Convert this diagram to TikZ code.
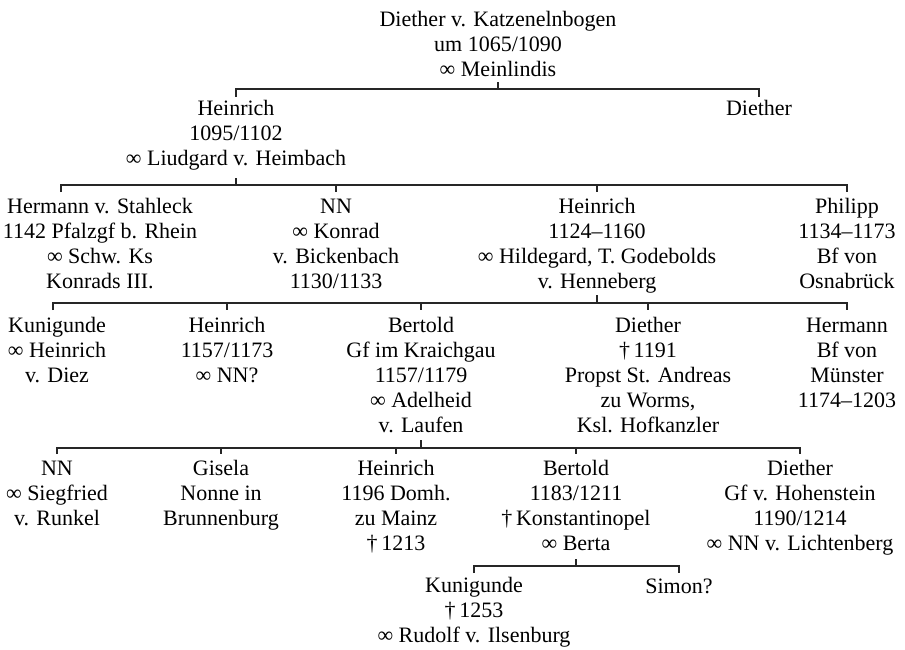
\documentclass[tikz,border=0pt]{standalone}
\usepackage{fontspec}
\setmainfont{Liberation Serif}
\usetikzlibrary{calc}
\newcommand{\persfont}{\fontsize{16.5}{18.75}\selectfont}
\tikzset{
  person/.style={align=center, inner sep=0pt, anchor=base, font=\persfont, text=black},
  bus/.style={line width=1.2pt, draw=black!85, line join=miter}
}
\begin{document}
\begin{tikzpicture}[x=0.75pt,y=-0.75pt]
\useasboundingbox (0,0) rectangle (905,649);
% node positions give the baseline of the LAST line of each node
% generation 0
\node[person] (D0) at (498,77) {Diether v. Katzenelnbogen\\um 1065/1090\\∞ Meinlindis};
% generation 1
\node[person] (H1) at (236,166) {Heinrich\\1095/1102\\∞ Liudgard v. Heimbach};
\node[person] (D1) at (759,116) {Diether};
% generation 2
\node[person] (H2a) at (100,288) {Hermann v. Stahleck\\1142 Pfalzgf b. Rhein\\∞ Schw. Ks\\Konrads III.};
\node[person] (N2) at (336,288) {NN\\∞ Konrad\\v. Bickenbach\\1130/1133};
\node[person] (H2b) at (597,288) {Heinrich\\1124–1160\\∞ Hildegard, T. Godebolds\\v. Henneberg};
\node[person] (P2) at (847,288) {Philipp\\1134–1173\\Bf von\\Osnabrück};
% generation 3
\node[person] (K3) at (57,382) {Kunigunde\\∞ Heinrich\\v. Diez};
\node[person] (H3) at (227,382) {Heinrich\\1157/1173\\∞ NN?};
\node[person] (B3) at (421,432) {Bertold\\Gf im Kraichgau\\1157/1179\\∞ Adelheid\\v. Laufen};
\node[person] (D3) at (648,432) {Diether\\†\,1191\\Propst St. Andreas\\zu Worms,\\Ksl. Hofkanzler};
\node[person] (He3) at (847,407) {Hermann\\Bf von\\Münster\\1174–1203};
% generation 4
\node[person] (N4) at (57,525) {NN\\∞ Siegfried\\v. Runkel};
\node[person] (G4) at (221,525) {Gisela\\Nonne in\\Brunnenburg};
\node[person] (H4) at (396,550) {Heinrich\\1196 Domh.\\zu Mainz\\†\,1213};
\node[person] (B4) at (576,550) {Bertold\\1183/1211\\†\,Konstantinopel\\∞ Berta};
\node[person] (D4) at (800,550) {Diether\\Gf v. Hohenstein\\1190/1214\\∞ NN v. Lichtenberg};
% generation 5
\node[person] (K5) at (474,642) {Kunigunde\\†\,1253\\∞ Rudolf v. Ilsenburg};
\node[person] (S5) at (679,593) {Simon?};
% bus levels
\coordinate (ya) at (0,89);
\coordinate (yb) at (0,185);
\coordinate (yc) at (0,303);
\coordinate (yd) at (0,448);
\coordinate (ye) at (0,566);
\coordinate (tH2a) at ($(H2a.north |- yb)+(-39,0)$);
\coordinate (tK3) at ($(K3.north |- yc)+(-4,0)$);
% family of D0
\draw[bus] (D0.south |- ya) -- ++(0,-7);
\draw[bus] ($(H1.north |- ya)+(0,8)$) -- (H1.north |- ya) -- (D1.north |- ya) -- ++(0,8);
% family of H1
\draw[bus] (H1.south |- yb) -- ++(0,-7);
\draw[bus] ($(tH2a)+(0,7)$) -- (tH2a) -- (P2.north |- yb) -- ++(0,7);
\draw[bus] (N2.north |- yb) -- ++(0,7);
\draw[bus] (H2b.north |- yb) -- ++(0,7);
% family of H2b
\draw[bus] (H2b.south |- yc) -- ++(0,-8);
\draw[bus] ($(tK3)+(0,7)$) -- (tK3) -- (He3.north |- yc) -- ++(0,7);
\draw[bus] (H3.north |- yc) -- ++(0,7);
\draw[bus] (B3.north |- yc) -- ++(0,7);
\draw[bus] (D3.north |- yc) -- ++(0,7);
% family of B3
\draw[bus] (B3.south |- yd) -- ++(0,-8);
\draw[bus] ($(N4.north |- yd)+(0,6)$) -- (N4.north |- yd) -- (D4.north |- yd) -- ++(0,6);
\draw[bus] (G4.north |- yd) -- ++(0,6);
\draw[bus] (H4.north |- yd) -- ++(0,6);
\draw[bus] (B4.north |- yd) -- ++(0,6);
% family of B4
\draw[bus] (B4.south |- ye) -- ++(0,-7);
\draw[bus] ($(K5.north |- ye)+(0,7)$) -- (K5.north |- ye) -- (S5.north |- ye) -- ++(0,7);
\end{tikzpicture}
\end{document}
